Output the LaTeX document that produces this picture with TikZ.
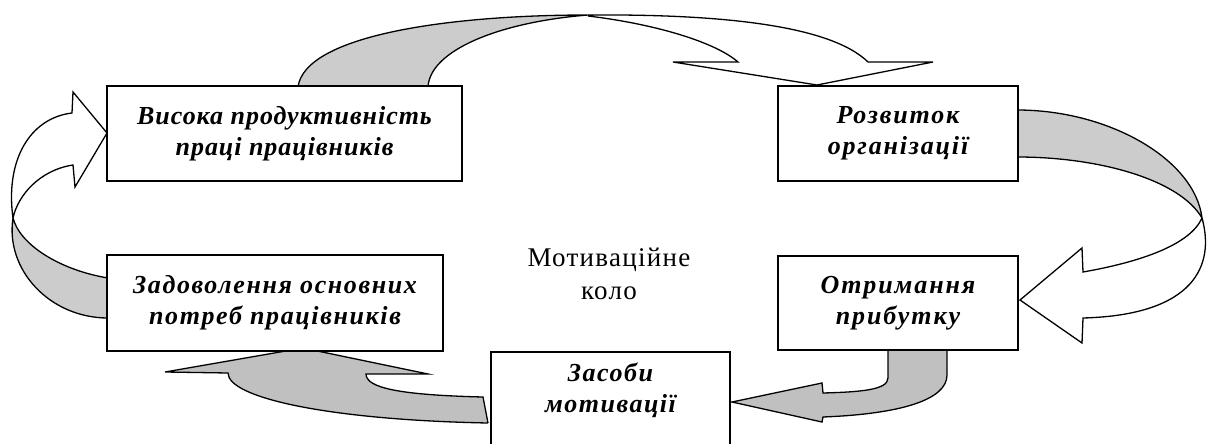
\documentclass[tikz,border=0pt]{standalone}
\usepackage{fontspec}
\setmainfont{Liberation Serif}
\definecolor{bandA}{RGB}{204,204,204}
\definecolor{bandB}{RGB}{192,192,192}
\tikzset{
  box/.style={draw=black, line width=1.6pt, fill=white, inner sep=0pt, align=center,
    font=\fontsize{26}{31}\selectfont\bfseries\itshape\addfontfeature{LetterSpace=#1}},
  lightband/.style={draw=black, line width=1.3pt, fill=bandA, line join=miter},
  whiteband/.style={draw=black, line width=1.3pt, fill=white, line join=miter},
  darkband/.style={draw=black, line width=1.3pt, fill=bandB, line join=miter},
  centertext/.style={align=center, font=\fontsize{27}{33}\selectfont\addfontfeature{LetterSpace=4.8}}
}
\begin{document}
\begin{tikzpicture}[x=1pt,y=-1pt]
\useasboundingbox (0,0) rectangle (1208,444);
\clip (0,0) rectangle (1208,444);
% ---- arrows (behind boxes)
% top: box1 -> box2
\path[lightband] (298,87) .. controls (305,35) and (450,15) .. (588,15)
   .. controls (500,22) and (430,50) .. (428,87) -- cycle;
\path[whiteband] (588,15) .. controls (720,14) and (830,25) .. (868,62)
   -- (933,62) -- (817,85) -- (673,62) -- (738,62)
   .. controls (715,42) and (655,24) .. (588,16);
% right: box2 -> box3
\path[lightband] (1017,110) .. controls (1110,110) and (1195,160) .. (1202,218)
   .. controls (1180,180) and (1100,157) .. (1017,157) -- cycle;
\path[whiteband] (1202,218) .. controls (1215,265) and (1195,315) .. (1083,318)
   -- (1082,343) -- (1020,300) -- (1082,248) -- (1083,272)
   .. controls (1140,262) and (1190,245) .. (1202,218);
% bottom right: box3 -> box5
\path[darkband] (888,349) -- (888,378) .. controls (888,390) and (860,392) .. (823,393)
   -- (822,383) -- (732,402) -- (822,422) -- (823,417)
   .. controls (900,414) and (947,400) .. (947,375) -- (947,349) -- cycle;
% bottom left: box5 -> box4
\path[darkband] (488,423) -- (483,397) .. controls (400,395) and (366,388) .. (366,374)
   -- (428,374) -- (303,348) -- (165,372) -- (228,373)
   .. controls (228,398) and (330,420) .. (488,423);
% left: box4 -> box1
\path[lightband] (108,278) .. controls (60,270) and (20,245) .. (13,218)
   .. controls (5,270) and (50,318) .. (108,318) -- cycle;
\path[whiteband] (13,218) .. controls (5,160) and (30,118) .. (72,113)
   -- (73,92) -- (107,133) -- (75,187) -- (73,165)
   .. controls (40,170) and (18,195) .. (13,218);
% ---- boxes
\node[box=3.7, minimum width=355pt, minimum height=95pt] (b1) at (284.5,133.5)
  {Висока продуктивність\\праці працівників};
\node[box=7, minimum width=240pt, minimum height=95pt] (b2) at (898,133.5)
  {Розвиток\\організації};
\node[box=7.3, minimum width=240pt, minimum height=94pt] (b3) at (898,303)
  {Отримання\\прибутку};
\node[box=6.2, minimum width=336pt, minimum height=96pt] (b4) at (275,303)
  {Задоволення основних\\потреб працівників};
\draw[line width=1.6pt, fill=white] (491,460) |- (730,352) -- (730,460);
\node[box=5.8, draw=none, fill=none] (b5) at (610.5,390) {Засоби\\мотивації};
\node[centertext] (c) at (609,274) {Мотиваційне\\коло};
\end{tikzpicture}
\end{document}
